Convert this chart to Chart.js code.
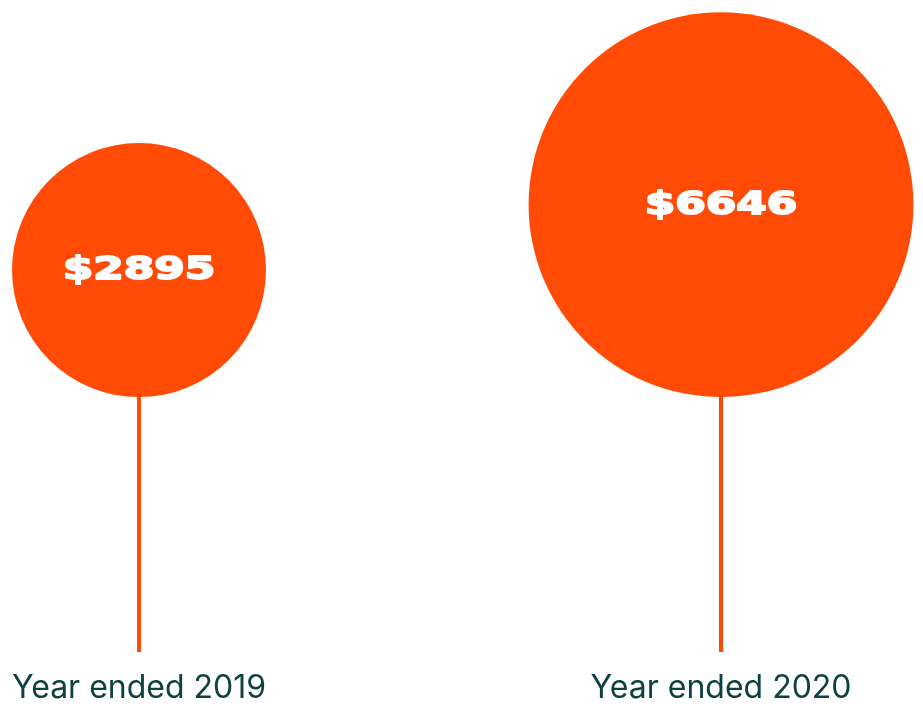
<!DOCTYPE html>
<html>
<head>
<meta charset="utf-8">
<script src="https://cdn.jsdelivr.net/npm/chart.js@4/dist/chart.umd.min.js"></script>
<style>
  html, body { margin: 0; padding: 0; background: #fff; }
  #wrap { width: 923px; height: 709px; }
</style>
</head>
<body>
<div id="wrap"><canvas id="lollipops"></canvas></div>
<script>
// chart data
const categories = ['Year ended 2019', 'Year ended 2020'];
const amounts = [2895, 6646];
const amountLabels = ['$2895', '$6646'];

// look
const ORANGE = '#ff4b06';
const INK = '#0e4242';
const STEM_LEVEL = 0.391;   // where the circles sit, on the hidden 0..1 y axis
const RADIUS_K = 2.36;      // px per sqrt(unit)
const AXIS_HEIGHT = 57;

function radiusFor(v) {
    return RADIUS_K * Math.sqrt(v);
}

// circles rest on top of their stem: shift each bubble up by its radius
const lollipopPlugin = {
    id: 'lollipop',
    afterDatasetsUpdate(chart) {
        const yScale = chart.scales.y;
        const base = yScale.getPixelForValue(STEM_LEVEL);
        chart.getDatasetMeta(0).data.forEach((el, i) => {
            el.y = base - radiusFor(amounts[i]);
        });
    },
    beforeDatasetsDraw(chart) {
        const ctx = chart.ctx;
        const yScale = chart.scales.y;
        const base = yScale.getPixelForValue(STEM_LEVEL);
        ctx.save();
        ctx.strokeStyle = ORANGE;
        ctx.lineWidth = 4;
        chart.getDatasetMeta(0).data.forEach(el => {
            ctx.beginPath();
            ctx.moveTo(el.x, chart.chartArea.bottom);
            ctx.lineTo(el.x, base - 2);
            ctx.stroke();
        });
        ctx.restore();
    },
    afterDatasetsDraw(chart) {
        const ctx = chart.ctx;
        ctx.save();
        ctx.fillStyle = '#ffffff';
        ctx.strokeStyle = '#ffffff';
        ctx.lineWidth = 1.8;
        ctx.lineJoin = 'round';
        ctx.font = 'bold 32px "DejaVu Sans"';
        ctx.textAlign = 'center';
        ctx.textBaseline = 'middle';
        chart.getDatasetMeta(0).data.forEach((el, i) => {
            ctx.save();
            ctx.translate(el.x, el.y + 1);
            ctx.scale(1.37, 1);
            ctx.fillText(amountLabels[i], 0, 0);
            ctx.strokeText(amountLabels[i], 0, 0);
            ctx.restore();
        });
        ctx.restore();
    }
};

const ctx = document.getElementById('lollipops').getContext('2d');
new Chart(ctx, {
    type: 'bubble',
    data: {
        labels: categories,
        datasets: [{
            data: categories.map((c, i) => ({ x: c, y: STEM_LEVEL, r: radiusFor(amounts[i]) })),
            backgroundColor: ORANGE,
            borderWidth: 0,
            hoverBackgroundColor: ORANGE,
            clip: false
        }]
    },
    options: {
        responsive: true,
        maintainAspectRatio: false,
        animation: false,
        events: [],
        layout: {
            autoPadding: false,
            padding: { left: 139, right: 202, top: 0, bottom: 0 }
        },
        plugins: {
            legend: { display: false },
            tooltip: { enabled: false }
        },
        scales: {
            x: {
                type: 'category',
                offset: false,
                border: { display: false },
                grid: { display: false, drawTicks: false },
                ticks: {
                    color: INK,
                    padding: 17,
                    maxRotation: 0,
                    font: { family: 'Inter', size: 32, lineHeight: 1.2 }
                },
                afterFit(scale) {
                    scale.height = AXIS_HEIGHT;
                    scale.paddingLeft = 0;
                    scale.paddingRight = 0;
                }
            },
            y: {
                display: false,
                min: 0,
                max: 1
            }
        }
    },
    plugins: [lollipopPlugin]
});
</script>
</body>
</html>
